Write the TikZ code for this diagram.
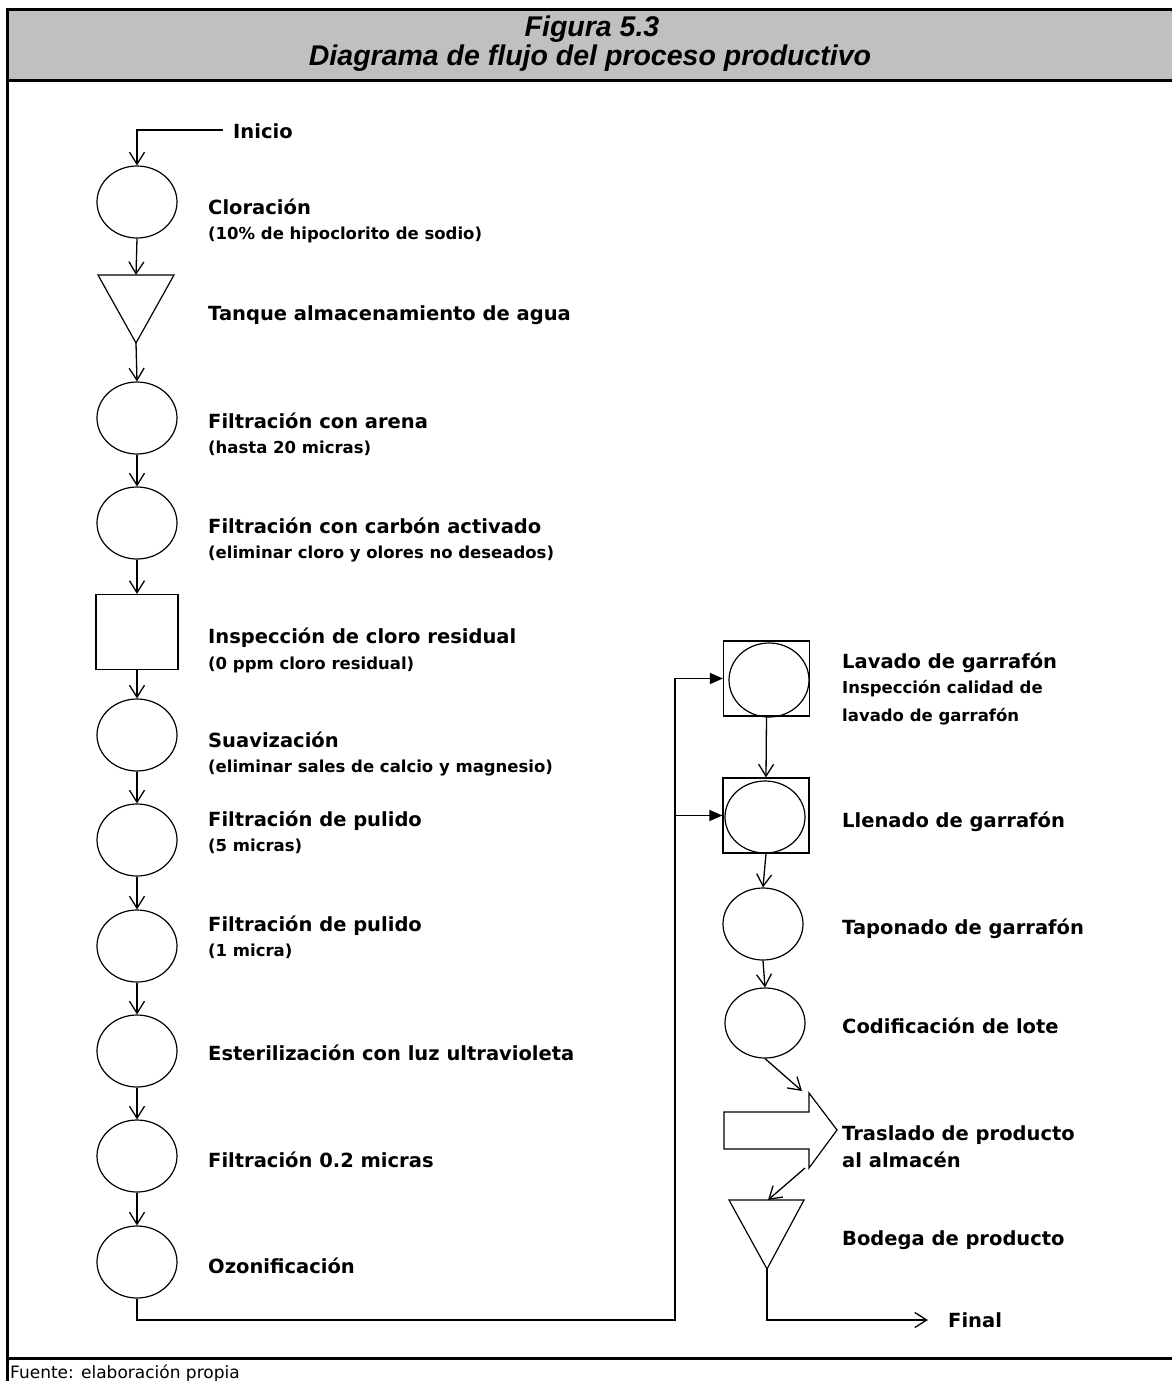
\documentclass[tikz,border=0pt]{standalone}
\usepackage{fontspec}
\setmainfont{DejaVu Sans}
\newfontfamily\titlefont{Liberation Sans}
\usetikzlibrary{arrows.meta,shapes.geometric}
\definecolor{headgray}{HTML}{C0C0C0}

\begin{document}
\begin{tikzpicture}[x=1pt,y=-1pt,
  outline/.style={draw=black,line width=1.2pt},
  proc/.style={outline,ellipse,inner sep=0pt,minimum width=80pt,minimum height=72pt},
  insp/.style={outline,rectangle,inner sep=0pt,minimum width=82pt,minimum height=75pt},
  combo/.style={outline,rectangle,inner sep=0pt,minimum width=86pt,minimum height=75pt},
  flow/.style={line width=1.3pt,-{Straight Barb[length=12pt,width=15pt,line width=1.3pt]}},
  feed/.style={line width=1.3pt,-{Triangle[length=13pt,width=11pt]}},
  lbl/.style={anchor=base west,inner sep=0pt,font=\fontsize{19.5}{22}\selectfont\bfseries},
  sub/.style={anchor=base west,inner sep=0pt,font=\fontsize{16.5}{19}\selectfont\bfseries},
  frameline/.style={line width=3pt},
  titletext/.style={anchor=base,inner sep=0pt,font=\titlefont\fontsize{28.5}{30}\selectfont\bfseries\itshape}
]
\useasboundingbox (0,0) rectangle (1172,1381);

% frame and heading band
\fill[headgray] (7,10) rectangle (1172,80);
\draw[frameline] (1172,10) -- (7,10) -- (7,1381);
\draw[frameline] (7,80) -- (1172,80);
\draw[frameline] (7,1358) -- (1172,1358);

\node[titletext] (fig) at (592,37) {Figura 5.3};
\node[titletext] (ttl) at (590,66) {Diagrama de flujo del proceso productivo};
\node[anchor=base west,inner sep=0pt,font=\fontsize{17}{20}\selectfont] (src) at (10,1378) {Fuente: elaboración propia};

% water treatment column
\node[proc] (clor) at (137,202) {};
\coordinate (tqTL) at (98,275);
\coordinate (tqTR) at (174,275);
\coordinate (tqTop) at (136,275);
\coordinate (tqApex) at (136,343);
\draw[outline] (tqTL) -- (tqTR) -- (tqApex) -- cycle;
\node[proc] (arena) at (137,418) {};
\node[proc] (carbon) at (137,523) {};
\node[insp] (cloro) at (137,632) {};
\node[proc] (suav) at (137,735) {};
\node[proc] (pul5) at (137,840) {};
\node[proc] (pul1) at (137,946) {};
\node[proc] (uv) at (137,1051) {};
\node[proc] (f02) at (137,1156) {};
\node[proc] (ozo) at (137,1262) {};

\coordinate (inicioEnd) at (223,130);
\draw[flow] (inicioEnd) -| (clor.north);
\draw[flow] (clor.south) -- (tqTop);
\draw[flow] (tqApex) -- (arena.north);
\draw[flow] (arena.south) -- (carbon.north);
\draw[flow] (carbon.south) -- (cloro.north);
\draw[flow] (cloro.south) -- (suav.north);
\draw[flow] (suav.south) -- (pul5.north);
\draw[flow] (pul5.south) -- (pul1.north);
\draw[flow] (pul1.south) -- (uv.north);
\draw[flow] (uv.south) -- (f02.north);
\draw[flow] (f02.south) -- (ozo.north);

% bottling column
\node[combo] (lav) at (766.5,678.5) {};
\node[proc,minimum height=74pt] (lavC) at (769,680) {};
\node[combo] (llen) at (766,815.5) {};
\node[proc] (llenC) at (765,817) {};
\node[proc] (tap) at (763,924) {};
\node[proc,minimum height=70pt] (cod) at (765,1023) {};

\draw[outline] (724,1112) -- (809,1112) -- (809,1093) -- (837,1130)
  -- (809,1168) -- (809,1149) -- (724,1149) -- cycle;
\coordinate (trasIn) at (802,1091);
\coordinate (trasOut) at (805,1168);

\coordinate (bodTop) at (768,1200);
\coordinate (bodApex) at (767,1269);
\draw[outline] (729,1200) -- (804,1200) -- (bodApex) -- cycle;

\draw[flow] (lav.south) -- (llen.north);
\draw[flow] (llen.south) -- (tap.north);
\draw[flow] (tap.south) -- (cod.north);
\draw[flow] (cod.south) -- (trasIn);
\draw[flow] (trasOut) -- (bodTop);

\coordinate (finEnd) at (928,1320);
\draw[flow] (bodApex) |- (finEnd);

% feed line from ozonation into washing and filling
\coordinate (busCorner) at (675,1320);
\draw[feed] (ozo.south) |- (busCorner) |- (lav.west);
\draw[feed] (busCorner |- llen.west) -- (llen.west);

% labels
\node[lbl] (tInicio) at (233,138) {Inicio};
\node[lbl] (tClor) at (208,214) {Cloración};
\node[sub] (sClor) at (208,239) {(10\% de hipoclorito de sodio)};
\node[lbl] (tTanque) at (208,320) {Tanque almacenamiento de agua};
\node[lbl] (tArena) at (208,428) {Filtración con arena};
\node[sub] (sArena) at (208,453) {(hasta 20 micras)};
\node[lbl] (tCarbon) at (208,533) {Filtración con carbón activado};
\node[sub] (sCarbon) at (208,558) {(eliminar cloro y olores no deseados)};
\node[lbl] (tCloro) at (208,643) {Inspección de cloro residual};
\node[sub] (sCloro) at (208,669) {(0 ppm cloro residual)};
\node[lbl] (tSuav) at (208,747) {Suavización};
\node[sub] (sSuav) at (208,772) {(eliminar sales de calcio y magnesio)};
\node[lbl] (tPul5) at (208,826) {Filtración de pulido};
\node[sub] (sPul5) at (208,851) {(5 micras)};
\node[lbl] (tPul1) at (208,931) {Filtración de pulido};
\node[sub] (sPul1) at (208,956) {(1 micra)};
\node[lbl] (tUV) at (208,1060) {Esterilización con luz ultravioleta};
\node[lbl] (tF02) at (208,1167) {Filtración 0.2 micras};
\node[lbl] (tOzo) at (208,1273) {Ozonificación};

\node[lbl] (tLav) at (842,668) {Lavado de garrafón};
\node[sub] (sLav1) at (842,693) {Inspección calidad de};
\node[sub] (sLav2) at (842,721) {lavado de garrafón};
\node[lbl] (tLlen) at (842,827) {Llenado de garrafón};
\node[lbl] (tTap) at (842,934) {Taponado de garrafón};
\node[lbl] (tCod) at (842,1033) {Codificación de lote};
\node[lbl] (tTras1) at (842,1140) {Traslado de producto};
\node[lbl] (tTras2) at (842,1167) {al almacén};
\node[lbl] (tBod) at (842,1245) {Bodega de producto};
\node[lbl] (tFin) at (948,1327) {Final};
\end{tikzpicture}
\end{document}
